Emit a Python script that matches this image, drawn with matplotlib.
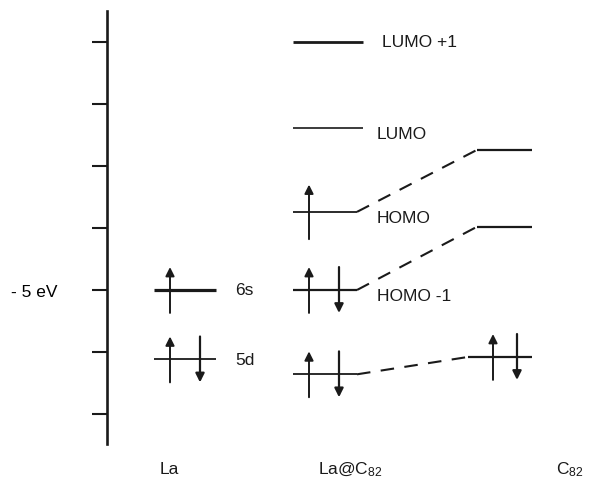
import matplotlib.pyplot as plt

# energy levels (eV)
la_names = ['6s', '5d']
la_energy = [-5.0, -5.56]
la_spins = [(1, 0), (1, 1)]          # (up, down)

lac_names = ['LUMO +1', 'LUMO', 'HOMO', 'HOMO -1', '']
lac_energy = [-3.0, -3.69, -4.37, -5.0, -5.68]
lac_spins = [(0, 0), (0, 0), (1, 0), (1, 1), (1, 1)]

c82_energy = [-3.87, -4.49, -5.54]
c82_spins = [(0, 0), (0, 0), (1, 1)]

# dashed correlation lines: (La@C82 level, C82 level)
links = [(2, 0), (3, 1), (4, 2)]

yticks = [-6.0, -5.5, -5.0, -4.5, -4.0, -3.5, -3.0]
ytick_labels = ['', '', '- 5 eV', '', '', '', '']

columns = ['La', 'La@C$_{82}$', 'C$_{82}$']

plt.rcParams['font.family'] = ['Liberation Sans', 'DejaVu Sans']
plt.rcParams['mathtext.fontset'] = 'custom'
plt.rcParams['mathtext.rm'] = 'Liberation Sans'
plt.rcParams['mathtext.it'] = 'Liberation Sans'

W, H = 589, 481
fig = plt.figure(figsize=(W / 100, H / 100), dpi=100)
ax = fig.add_axes([107 / W, 36 / H, (W - 107) / W, 433 / H])
ax.set_xlim(107, W)
ax.set_ylim(-6.242, -2.75)

for s in ['top', 'right', 'bottom']:
    ax.spines[s].set_visible(False)
ax.spines['left'].set_linewidth(1.9)
ax.spines['left'].set_color('#1a1a1a')
ax.set_xticks([])
ax.set_yticks(yticks)
ax.set_yticklabels(ytick_labels, fontsize=12.5)
ax.tick_params(axis='y', direction='out', length=10.8, width=1.5,
               color='#1a1a1a', pad=25)

FS = 12.5
ink = '#1a1a1a'
half = 0.185


def spins(x_up, x_dn, e, n, h=half):
    up, dn = n
    if up:
        ax.annotate('', xy=(x_up, e + h), xytext=(x_up, e - h),
                    arrowprops=dict(arrowstyle='-|>', lw=1.4, color=ink,
                                    mutation_scale=13, shrinkA=0, shrinkB=0))
    if dn:
        ax.annotate('', xy=(x_dn, e - h), xytext=(x_dn, e + h),
                    arrowprops=dict(arrowstyle='-|>', lw=1.6, color=ink,
                                    mutation_scale=13, shrinkA=0, shrinkB=0))


# La
la_lw = [2.3, 1.3]
for name, e, n, lw in zip(la_names, la_energy, la_spins, la_lw):
    ax.plot([154, 216], [e, e], color=ink, lw=lw, solid_capstyle='butt')
    spins(170, 200, e, n)
    ax.text(235, e, name, fontsize=FS, va='center', ha='left', color=ink)

# La@C82
lac_lw = [2.0, 1.2, 1.3, 1.6, 1.3]
lac_right = []
for name, e, n, lw in zip(lac_names, lac_energy, lac_spins, lac_lw):
    right = 357 if sum(n) else 363
    lac_right.append(right)
    ax.plot([293, right], [e, e], color=ink, lw=lw, solid_capstyle='butt')
    h = 0.22 if n == (1, 0) else half
    spins(309, 339, e, n, h)
    if name:
        x_lab = 382 if name == 'LUMO +1' else 377
        dy = 0 if name == 'LUMO +1' else -6
        ax.annotate(name, xy=(x_lab, e), xytext=(0, dy),
                    textcoords='offset pixels', fontsize=FS,
                    va='center', ha='left', color=ink)

# C82
c82_left = [477, 477, 468]
for e, n, xl in zip(c82_energy, c82_spins, c82_left):
    ax.plot([xl, 532], [e, e], color=ink, lw=1.6, solid_capstyle='butt')
    spins(493, 517, e, n)

for i, j in links:
    ax.plot([lac_right[i], c82_left[j]], [lac_energy[i], c82_energy[j]],
            color=ink, lw=1.5, linestyle=(0, (6.5, 5)))

# column labels
col_x = [160, 318, 556]
for x, lab in zip(col_x, columns):
    fig.text(x / W, 1 - 470 / H, lab, fontsize=FS, ha='left', va='center',
             color=ink)

fig.savefig('out.png', dpi=100, facecolor='white')
